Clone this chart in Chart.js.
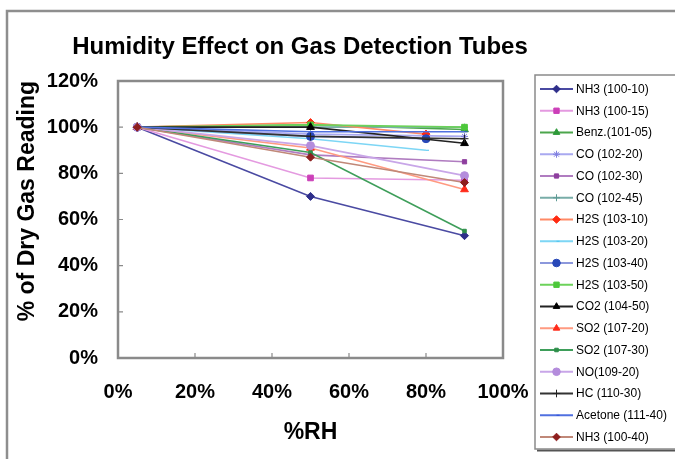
<!DOCTYPE html>
<html>
<head>
<meta charset="utf-8">
<script src="https://cdn.jsdelivr.net/npm/chart.js@4.4.1/dist/chart.umd.min.js"></script>
<style>
  html, body { margin: 0; padding: 0; background: #fff; }
  #wrap { width: 675px; height: 459px; position: relative; }
</style>
</head>
<body>
<div id="wrap"><canvas id="humidityChart" width="675" height="459"></canvas></div>
<script>
// %RH levels used in the tests
const rhFull = [5, 50, 90];
const rhShort = [5, 50, 80];

const seriesNames = [
  "NH3 (100-10)", "NH3 (100-15)", "Benz.(101-05)", "CO (102-20)", "CO (102-30)",
  "CO (102-45)", "H2S (103-10)", "H2S (103-20)", "H2S (103-40)", "H2S (103-50)",
  "CO2 (104-50)", "SO2 (107-20)", "SO2 (107-30)", "NO(109-20)", "HC (110-30)",
  "Acetone (111-40)", "NH3 (100-40)"
];

// % of dry gas reading, one array per tube
const nh3_100_10 = [100, 70, 53];
const nh3_100_15 = [100, 78, 77];
const benz_101_05 = [100, 101, 99];
const co_102_20 = [100, 97, 96];
const co_102_30 = [100, 88, 85];
const co_102_45 = [100, 100, 100];
const h2s_103_10 = [100, 102, 97];
const h2s_103_20 = [100, 95, 90];
const h2s_103_40 = [100, 96, 95];
const h2s_103_50 = [100, 101, 100];
const co2_104_50 = [100, 100, 93];
const so2_107_20 = [100, 91, 73];
const so2_107_30 = [100, 89, 55];
const no_109_20 = [100, 92, 79];
const hc_110_30 = [100, 96, 95];
const acetone_111_40 = [100, 98, 98];
const nh3_100_40 = [100, 87, 76];

const readings = [
  nh3_100_10, nh3_100_15, benz_101_05, co_102_20, co_102_30, co_102_45,
  h2s_103_10, h2s_103_20, h2s_103_40, h2s_103_50, co2_104_50, so2_107_20,
  so2_107_30, no_109_20, hc_110_30, acetone_111_40, nh3_100_40
];
const rhOf = [
  rhFull, rhFull, rhFull, rhFull, rhFull, rhFull,
  rhShort, rhShort, rhShort, rhFull, rhFull, rhFull,
  rhFull, rhFull, rhFull, rhFull, rhFull
];

const xTicks = [0, 20, 40, 60, 80, 100];
const yTicks = [0, 20, 40, 60, 80, 100, 120];

// look of each series
const lineColors = [
  "#4a4aa2", "#e49ae0", "#4ca64c", "#a9a9f0", "#b07cc0", "#78ada8",
  "#ff8a66", "#7dd6f5", "#8c98dc", "#6cd25a", "#222222", "#ff9a80",
  "#3e9e5a", "#c8a6e8", "#333333", "#5070e0", "#c08878"
];
const markerColors = [
  "#2e2e8a", "#cc3fb8", "#2e9a3a", "#8080e0", "#8e3e9e", "#5e9a94",
  "#ff2a10", "#4cc4f0", "#2848b8", "#4cc83a", "#000000", "#ff2a1a",
  "#2e8e4a", "#b48cdc", "#222222", "#3050d8", "#8e1e1e"
];
const markerStyles = [
  "rectRot", "rect", "triangle", "star", "rect", "cross",
  "rectRot", "dash", "circle", "rect", "triangle", "triangle",
  "rect", "circle", "cross", "dash", "rectRot"
];
const markerSizes = [4, 4, 4.5, 3.5, 3, 3.5, 4, 3, 4, 4, 4.5, 4.5, 2.5, 4, 4, 3, 4];

const FONT = "'Liberation Sans', Arial, sans-serif";

const datasets = seriesNames.map((name, i) => ({
  label: name,
  data: readings[i].map((v, j) => ({ x: rhOf[i][j], y: v })),
  showLine: true,
  fill: false,
  tension: 0,
  borderColor: lineColors[i],
  borderWidth: 1.6,
  pointStyle: markerStyles[i],
  pointRadius: markerSizes[i],
  pointBackgroundColor: markerColors[i],
  pointBorderColor: markerColors[i],
  pointBorderWidth: 1,
  order: seriesNames.length - i
}));

function drawMarker(ctx, style, r, x, y) {
  if (Chart.helpers && Chart.helpers.drawPoint) {
    Chart.helpers.drawPoint(ctx, { pointStyle: style, radius: r, borderWidth: 1, rotation: 0 }, x, y);
  } else {
    ctx.beginPath();
    ctx.arc(x, y, r, 0, Math.PI * 2);
    ctx.fill();
  }
}

const excelFrame = {
  id: "excelFrame",
  beforeDraw(chart) {
    const ctx = chart.ctx;
    ctx.save();
    ctx.fillStyle = "#fff";
    ctx.fillRect(0, 0, chart.width, chart.height);
    // outer chart border
    ctx.strokeStyle = "#8e8e8e";
    ctx.lineWidth = 2.5;
    ctx.beginPath();
    ctx.moveTo(7, chart.height);
    ctx.lineTo(7, 11);
    ctx.lineTo(chart.width, 11);
    ctx.stroke();
    ctx.restore();
  },
  beforeDatasetsDraw(chart) {
    const ctx = chart.ctx;
    const a = chart.chartArea;
    const xs = chart.scales.x, ys = chart.scales.y;
    ctx.save();
    ctx.strokeStyle = "#8a8a8a";
    ctx.lineWidth = 2.5;
    ctx.strokeRect(a.left, a.top, a.right - a.left, a.bottom - a.top);
    ctx.lineWidth = 1.2;
    ctx.beginPath();
    yTicks.slice(1, -1).forEach(v => {
      const p = ys.getPixelForValue(v);
      ctx.moveTo(a.left, p);
      ctx.lineTo(a.left + 5, p);
    });
    xTicks.slice(1, -1).forEach(v => {
      const p = xs.getPixelForValue(v);
      ctx.moveTo(p, a.bottom);
      ctx.lineTo(p, a.bottom - 5);
    });
    ctx.stroke();
    ctx.restore();
  },
  afterDraw(chart) {
    const ctx = chart.ctx;
    ctx.save();
    // chart title
    ctx.fillStyle = "#000";
    ctx.font = "bold 24px " + FONT;
    ctx.textAlign = "center";
    ctx.textBaseline = "middle";
    ctx.fillText("Humidity Effect on Gas Detection Tubes", 300, 47);

    // legend box with a soft shadow
    const bx = 535, by = 75, bw = 150, bh = 374;
    ctx.strokeStyle = "#555";
    ctx.lineWidth = 2;
    ctx.beginPath();
    ctx.moveTo(bx + 2, by + bh + 1.5);
    ctx.lineTo(bx + bw, by + bh + 1.5);
    ctx.stroke();
    ctx.strokeStyle = "#8a8a8a";
    ctx.lineWidth = 1.5;
    ctx.strokeRect(bx, by, bw, bh);

    ctx.font = "12px " + FONT;
    ctx.textAlign = "left";
    seriesNames.forEach((name, i) => {
      const y = 89 + i * 21.75;
      ctx.strokeStyle = lineColors[i];
      ctx.lineWidth = 1.8;
      ctx.beginPath();
      ctx.moveTo(540, y);
      ctx.lineTo(573, y);
      ctx.stroke();
      ctx.fillStyle = markerColors[i];
      ctx.strokeStyle = markerColors[i];
      ctx.lineWidth = 1;
      drawMarker(ctx, markerStyles[i], Math.min(markerSizes[i], 3.8), 556.5, y);
      ctx.fillStyle = "#000";
      ctx.fillText(name, 576, y + 0.5);
    });
    ctx.restore();
  }
};

const tickFont = { family: FONT, size: 20, weight: "bold" };
const titleFont = { family: FONT, size: 23, weight: "bold" };

new Chart(document.getElementById("humidityChart"), {
  type: "scatter",
  data: { datasets: datasets },
  options: {
    responsive: false,
    animation: false,
    layout: { padding: { left: 0, top: 81, right: 172, bottom: 0 } },
    plugins: {
      legend: { display: false },
      title: { display: false },
      tooltip: { enabled: false }
    },
    scales: {
      x: {
        type: "linear",
        min: 0,
        max: 100,
        afterBuildTicks: (s) => { s.ticks = xTicks.map(v => ({ value: v })); },
        afterFit: (s) => { s.height = 101; },
        ticks: {
          color: "#000",
          font: tickFont,
          padding: 22,
          callback: (v) => v + "%"
        },
        grid: { display: false, drawTicks: false },
        border: { display: false },
        title: {
          display: true,
          text: "%RH",
          color: "#000",
          font: titleFont,
          padding: { top: 0, bottom: 13 }
        }
      },
      y: {
        min: 0,
        max: 120,
        afterBuildTicks: (s) => { s.ticks = yTicks.map(v => ({ value: v })); },
        afterFit: (s) => { s.width = 118; },
        ticks: {
          color: "#000",
          font: tickFont,
          padding: 20,
          callback: (v) => v + "%"
        },
        grid: { display: false, drawTicks: false },
        border: { display: false },
        title: {
          display: true,
          text: "% of Dry Gas Reading",
          align: "end",
          color: "#000",
          font: titleFont,
          padding: { top: 14, bottom: 0 }
        }
      }
    }
  },
  plugins: [excelFrame]
});
</script>
</body>
</html>
